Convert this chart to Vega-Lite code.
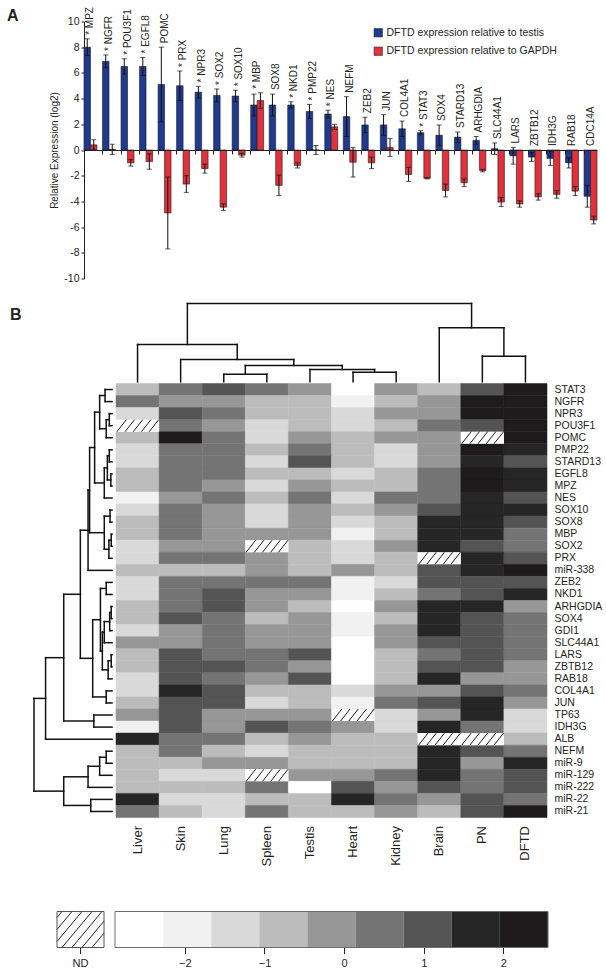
{
"$schema":"https://vega.github.io/schema/vega-lite/v6.json",
"autosize":{"type":"none"},
"padding":{"left":34,"top":21.5,"right":572,"bottom":955.5},
"background":"white",
"config":{"view":{"stroke":null},"font":"Liberation Sans",
"axis":{"labelFont":"Liberation Sans","titleFont":"Liberation Sans","labelColor":"#231f20","titleColor":"#231f20","domainColor":"#231f20","tickColor":"#231f20","grid":false},
"axisY":{"labelOverlap":false},
"legend":{"labelFont":"Liberation Sans","labelColor":"#231f20"},
"title":{"font":"Liberation Sans","color":"#231f20"}},
"datasets":{
"bars":[
{"gene":"MPZ","ref":"testis","value":8.0,"err":0.65},{"gene":"MPZ","ref":"GAPDH","value":0.4,"err":0.4},
{"gene":"NGFR","ref":"testis","value":6.9,"err":0.5},{"gene":"NGFR","ref":"GAPDH","value":0.05,"err":0.4},
{"gene":"POU3F1","ref":"testis","value":6.5,"err":0.6},{"gene":"POU3F1","ref":"GAPDH","value":-1.0,"err":0.25},
{"gene":"EGFL8","ref":"testis","value":6.5,"err":0.7},{"gene":"EGFL8","ref":"GAPDH","value":-0.9,"err":0.6},
{"gene":"POMC","ref":"testis","value":5.1,"err":2.9},{"gene":"POMC","ref":"GAPDH","value":-4.9,"err":2.8},
{"gene":"PRX","ref":"testis","value":5.0,"err":1.15},{"gene":"PRX","ref":"GAPDH","value":-2.65,"err":0.65},
{"gene":"NPR3","ref":"testis","value":4.5,"err":0.45},{"gene":"NPR3","ref":"GAPDH","value":-1.45,"err":0.35},
{"gene":"SOX2","ref":"testis","value":4.25,"err":0.5},{"gene":"SOX2","ref":"GAPDH","value":-4.45,"err":0.25},
{"gene":"SOX10","ref":"testis","value":4.2,"err":0.45},{"gene":"SOX10","ref":"GAPDH","value":-0.4,"err":0.15},
{"gene":"MBP","ref":"testis","value":3.5,"err":0.85},{"gene":"MBP","ref":"GAPDH","value":3.85,"err":0.6},
{"gene":"SOX8","ref":"testis","value":3.5,"err":0.85},{"gene":"SOX8","ref":"GAPDH","value":-2.75,"err":0.8},
{"gene":"NKD1","ref":"testis","value":3.5,"err":0.25},{"gene":"NKD1","ref":"GAPDH","value":-1.2,"err":0.2},
{"gene":"PMP22","ref":"testis","value":3.0,"err":0.55},{"gene":"PMP22","ref":"GAPDH","value":0.0,"err":0.35},
{"gene":"NES","ref":"testis","value":2.8,"err":0.3},{"gene":"NES","ref":"GAPDH","value":1.8,"err":0.2},
{"gene":"NEFM","ref":"testis","value":2.6,"err":1.55},{"gene":"NEFM","ref":"GAPDH","value":-0.95,"err":1.15},
{"gene":"ZEB2","ref":"testis","value":1.95,"err":0.6},{"gene":"ZEB2","ref":"GAPDH","value":-1.0,"err":0.45},
{"gene":"JUN","ref":"testis","value":1.95,"err":0.8},{"gene":"JUN","ref":"GAPDH","value":0.2,"err":0.7},
{"gene":"COL4A1","ref":"testis","value":1.65,"err":0.6},{"gene":"COL4A1","ref":"GAPDH","value":-1.9,"err":0.55},
{"gene":"STAT3","ref":"testis","value":1.35,"err":0.15},{"gene":"STAT3","ref":"GAPDH","value":-2.2,"err":0.05},
{"gene":"SOX4","ref":"testis","value":1.15,"err":0.8},{"gene":"SOX4","ref":"GAPDH","value":-3.15,"err":0.5},
{"gene":"STARD13","ref":"testis","value":1.0,"err":0.4},{"gene":"STARD13","ref":"GAPDH","value":-2.55,"err":0.3},
{"gene":"ARHGDIA","ref":"testis","value":0.75,"err":0.3},{"gene":"ARHGDIA","ref":"GAPDH","value":-1.6,"err":0.1},
{"gene":"SLC44A1","ref":"testis","value":0.1,"err":0.45},{"gene":"SLC44A1","ref":"GAPDH","value":-4.05,"err":0.35},
{"gene":"LARS","ref":"testis","value":-0.45,"err":0.65},{"gene":"LARS","ref":"GAPDH","value":-4.2,"err":0.25},
{"gene":"ZBTB12","ref":"testis","value":-0.55,"err":0.35},{"gene":"ZBTB12","ref":"GAPDH","value":-3.65,"err":0.25},
{"gene":"IDH3G","ref":"testis","value":-0.65,"err":0.55},{"gene":"IDH3G","ref":"GAPDH","value":-3.45,"err":0.3},
{"gene":"RAB18","ref":"testis","value":-1.0,"err":0.4},{"gene":"RAB18","ref":"GAPDH","value":-3.2,"err":0.35},
{"gene":"CDC14A","ref":"testis","value":-3.6,"err":0.85},{"gene":"CDC14A","ref":"GAPDH","value":-5.45,"err":0.3}],
"genes":[{"gene":"MPZ","sig":true},{"gene":"NGFR","sig":true},{"gene":"POU3F1","sig":true},{"gene":"EGFL8","sig":true},{"gene":"POMC","sig":false},{"gene":"PRX","sig":true},{"gene":"NPR3","sig":true},{"gene":"SOX2","sig":true},{"gene":"SOX10","sig":true},{"gene":"MBP","sig":true},{"gene":"SOX8","sig":false},{"gene":"NKD1","sig":true},{"gene":"PMP22","sig":true},{"gene":"NES","sig":true},{"gene":"NEFM","sig":false},{"gene":"ZEB2","sig":false},{"gene":"JUN","sig":false},{"gene":"COL4A1","sig":false},{"gene":"STAT3","sig":true},{"gene":"SOX4","sig":false},{"gene":"STARD13","sig":false},{"gene":"ARHGDIA","sig":false},{"gene":"SLC44A1","sig":false},{"gene":"LARS","sig":false},{"gene":"ZBTB12","sig":false},{"gene":"IDH3G","sig":false},{"gene":"RAB18","sig":false},{"gene":"CDC14A","sig":false}],
"topTree":[{"p1":2,"h1":0,"p2":3,"h2":0,"h":23},{"p1":5,"h1":0,"p2":6,"h2":0,"h":29},{"p1":4,"h1":0,"p2":5.5,"h2":29,"h":37},{"p1":2.5,"h1":23,"p2":4.75,"h2":37,"h":49},{"p1":1,"h1":0,"p2":3.625,"h2":49,"h":67},{"p1":0,"h1":0,"p2":2.3125,"h2":67,"h":112},{"p1":8,"h1":0,"p2":9,"h2":0,"h":77},{"p1":7,"h1":0,"p2":8.5,"h2":77,"h":162},{"p1":1.15625,"h1":112,"p2":7.75,"h2":162,"h":235}],
"leftTree":[{"p1":0,"h1":0,"p2":1,"h2":0,"h":18},{"p1":2,"h1":0,"p2":3,"h2":0,"h":7},{"p1":2.5,"h1":7,"p2":4,"h2":0,"h":15},{"p1":0.5,"h1":18,"p2":3.25,"h2":15,"h":32},{"p1":5,"h1":0,"p2":6,"h2":0,"h":7},{"p1":7,"h1":0,"p2":8,"h2":0,"h":3},{"p1":5.5,"h1":7,"p2":7.5,"h2":3,"h":12},{"p1":6.5,"h1":12,"p2":9,"h2":0,"h":20},{"p1":1.875,"h1":32,"p2":7.75,"h2":20,"h":45},{"p1":10,"h1":0,"p2":11,"h2":0,"h":5},{"p1":12,"h1":0,"p2":13,"h2":0,"h":2},{"p1":12.5,"h1":2,"p2":14,"h2":0,"h":8},{"p1":10.5,"h1":5,"p2":13.25,"h2":8,"h":20},{"p1":4.8125,"h1":45,"p2":11.875,"h2":20,"h":58},{"p1":8.34375,"h1":58,"p2":15,"h2":0,"h":62},{"p1":16,"h1":0,"p2":17,"h2":0,"h":15},{"p1":18,"h1":0,"p2":19,"h2":0,"h":2},{"p1":18.5,"h1":2,"p2":20,"h2":0,"h":6},{"p1":19.25,"h1":6,"p2":21,"h2":0,"h":20},{"p1":22,"h1":0,"p2":23,"h2":0,"h":2},{"p1":22.5,"h1":2,"p2":24,"h2":0,"h":10},{"p1":20.125,"h1":20,"p2":23.25,"h2":10,"h":25},{"p1":16.5,"h1":15,"p2":21.6875,"h2":25,"h":30},{"p1":25,"h1":0,"p2":26,"h2":0,"h":15},{"p1":19.09375,"h1":30,"p2":25.5,"h2":15,"h":50},{"p1":11.671875,"h1":62,"p2":22.296875,"h2":50,"h":82},{"p1":27,"h1":0,"p2":28,"h2":0,"h":47},{"p1":16.984375,"h1":82,"p2":27.5,"h2":47,"h":125},{"p1":22.2421875,"h1":125,"p2":29,"h2":0,"h":172},{"p1":30,"h1":0,"p2":31,"h2":0,"h":15},{"p1":30.5,"h1":15,"p2":32,"h2":0,"h":32},{"p1":31.25,"h1":32,"p2":33,"h2":0,"h":62},{"p1":34,"h1":0,"p2":35,"h2":0,"h":55},{"p1":32.125,"h1":62,"p2":34.5,"h2":55,"h":125},{"p1":25.62109375,"h1":172,"p2":33.3125,"h2":125,"h":202}],
"legendBins":[{"lo":-2.877,"hi":-2.273},{"lo":-2.273,"hi":-1.669},{"lo":-1.669,"hi":-1.065},{"lo":-1.065,"hi":-0.461},{"lo":-0.461,"hi":0.143},{"lo":0.143,"hi":0.747},{"lo":0.747,"hi":1.351},{"lo":1.351,"hi":1.955},{"lo":1.955,"hi":2.56}],
"heat":[
{"gene":"STAT3","tissue":"Liver","z":-0.8},{"gene":"STAT3","tissue":"Skin","z":0.4},{"gene":"STAT3","tissue":"Lung","z":1.1},{"gene":"STAT3","tissue":"Spleen","z":0.4},{"gene":"STAT3","tissue":"Testis","z":-0.2},{"gene":"STAT3","tissue":"Heart","z":-2.6},{"gene":"STAT3","tissue":"Kidney","z":-0.2},{"gene":"STAT3","tissue":"Brain","z":-0.8},{"gene":"STAT3","tissue":"PN","z":1.1},{"gene":"STAT3","tissue":"DFTD","z":2.3},
{"gene":"NGFR","tissue":"Liver","z":0.4},{"gene":"NGFR","tissue":"Skin","z":-0.2},{"gene":"NGFR","tissue":"Lung","z":-0.2},{"gene":"NGFR","tissue":"Spleen","z":-0.8},{"gene":"NGFR","tissue":"Testis","z":-0.8},{"gene":"NGFR","tissue":"Heart","z":-2.0},{"gene":"NGFR","tissue":"Kidney","z":-0.8},{"gene":"NGFR","tissue":"Brain","z":-0.2},{"gene":"NGFR","tissue":"PN","z":2.3},{"gene":"NGFR","tissue":"DFTD","z":2.3},
{"gene":"NPR3","tissue":"Liver","z":-1.4},{"gene":"NPR3","tissue":"Skin","z":1.1},{"gene":"NPR3","tissue":"Lung","z":0.4},{"gene":"NPR3","tissue":"Spleen","z":-0.8},{"gene":"NPR3","tissue":"Testis","z":-0.8},{"gene":"NPR3","tissue":"Heart","z":-1.4},{"gene":"NPR3","tissue":"Kidney","z":-0.2},{"gene":"NPR3","tissue":"Brain","z":-0.2},{"gene":"NPR3","tissue":"PN","z":2.3},{"gene":"NPR3","tissue":"DFTD","z":2.3},
{"gene":"POU3F1","tissue":"Liver","z":null},{"gene":"POU3F1","tissue":"Skin","z":0.4},{"gene":"POU3F1","tissue":"Lung","z":-0.2},{"gene":"POU3F1","tissue":"Spleen","z":-1.4},{"gene":"POU3F1","tissue":"Testis","z":-0.8},{"gene":"POU3F1","tissue":"Heart","z":-1.4},{"gene":"POU3F1","tissue":"Kidney","z":-0.8},{"gene":"POU3F1","tissue":"Brain","z":0.4},{"gene":"POU3F1","tissue":"PN","z":1.1},{"gene":"POU3F1","tissue":"DFTD","z":2.3},
{"gene":"POMC","tissue":"Liver","z":-0.8},{"gene":"POMC","tissue":"Skin","z":2.3},{"gene":"POMC","tissue":"Lung","z":0.4},{"gene":"POMC","tissue":"Spleen","z":-1.4},{"gene":"POMC","tissue":"Testis","z":-0.2},{"gene":"POMC","tissue":"Heart","z":-0.8},{"gene":"POMC","tissue":"Kidney","z":-0.2},{"gene":"POMC","tissue":"Brain","z":-0.2},{"gene":"POMC","tissue":"PN","z":null},{"gene":"POMC","tissue":"DFTD","z":2.3},
{"gene":"PMP22","tissue":"Liver","z":-1.4},{"gene":"PMP22","tissue":"Skin","z":0.4},{"gene":"PMP22","tissue":"Lung","z":0.4},{"gene":"PMP22","tissue":"Spleen","z":-0.8},{"gene":"PMP22","tissue":"Testis","z":0.4},{"gene":"PMP22","tissue":"Heart","z":-0.8},{"gene":"PMP22","tissue":"Kidney","z":-1.4},{"gene":"PMP22","tissue":"Brain","z":-0.2},{"gene":"PMP22","tissue":"PN","z":2.3},{"gene":"PMP22","tissue":"DFTD","z":1.7},
{"gene":"STARD13","tissue":"Liver","z":-1.4},{"gene":"STARD13","tissue":"Skin","z":0.4},{"gene":"STARD13","tissue":"Lung","z":0.4},{"gene":"STARD13","tissue":"Spleen","z":-1.4},{"gene":"STARD13","tissue":"Testis","z":1.1},{"gene":"STARD13","tissue":"Heart","z":-0.8},{"gene":"STARD13","tissue":"Kidney","z":-1.4},{"gene":"STARD13","tissue":"Brain","z":-0.2},{"gene":"STARD13","tissue":"PN","z":1.7},{"gene":"STARD13","tissue":"DFTD","z":1.1},
{"gene":"EGFL8","tissue":"Liver","z":-0.8},{"gene":"EGFL8","tissue":"Skin","z":0.4},{"gene":"EGFL8","tissue":"Lung","z":0.4},{"gene":"EGFL8","tissue":"Spleen","z":-0.8},{"gene":"EGFL8","tissue":"Testis","z":-0.8},{"gene":"EGFL8","tissue":"Heart","z":-1.4},{"gene":"EGFL8","tissue":"Kidney","z":-0.8},{"gene":"EGFL8","tissue":"Brain","z":0.4},{"gene":"EGFL8","tissue":"PN","z":2.3},{"gene":"EGFL8","tissue":"DFTD","z":1.7},
{"gene":"MPZ","tissue":"Liver","z":-0.8},{"gene":"MPZ","tissue":"Skin","z":0.4},{"gene":"MPZ","tissue":"Lung","z":-0.2},{"gene":"MPZ","tissue":"Spleen","z":-1.4},{"gene":"MPZ","tissue":"Testis","z":-0.2},{"gene":"MPZ","tissue":"Heart","z":-0.8},{"gene":"MPZ","tissue":"Kidney","z":-0.8},{"gene":"MPZ","tissue":"Brain","z":0.4},{"gene":"MPZ","tissue":"PN","z":2.3},{"gene":"MPZ","tissue":"DFTD","z":1.7},
{"gene":"NES","tissue":"Liver","z":-2.0},{"gene":"NES","tissue":"Skin","z":-0.2},{"gene":"NES","tissue":"Lung","z":0.4},{"gene":"NES","tissue":"Spleen","z":-0.8},{"gene":"NES","tissue":"Testis","z":0.4},{"gene":"NES","tissue":"Heart","z":-1.4},{"gene":"NES","tissue":"Kidney","z":0.4},{"gene":"NES","tissue":"Brain","z":0.4},{"gene":"NES","tissue":"PN","z":1.7},{"gene":"NES","tissue":"DFTD","z":1.1},
{"gene":"SOX10","tissue":"Liver","z":-1.4},{"gene":"SOX10","tissue":"Skin","z":0.4},{"gene":"SOX10","tissue":"Lung","z":-0.2},{"gene":"SOX10","tissue":"Spleen","z":-1.4},{"gene":"SOX10","tissue":"Testis","z":-0.2},{"gene":"SOX10","tissue":"Heart","z":-0.8},{"gene":"SOX10","tissue":"Kidney","z":-0.2},{"gene":"SOX10","tissue":"Brain","z":1.1},{"gene":"SOX10","tissue":"PN","z":1.7},{"gene":"SOX10","tissue":"DFTD","z":1.7},
{"gene":"SOX8","tissue":"Liver","z":-0.8},{"gene":"SOX8","tissue":"Skin","z":0.4},{"gene":"SOX8","tissue":"Lung","z":-0.2},{"gene":"SOX8","tissue":"Spleen","z":-1.4},{"gene":"SOX8","tissue":"Testis","z":-0.2},{"gene":"SOX8","tissue":"Heart","z":-1.4},{"gene":"SOX8","tissue":"Kidney","z":-0.8},{"gene":"SOX8","tissue":"Brain","z":1.7},{"gene":"SOX8","tissue":"PN","z":1.7},{"gene":"SOX8","tissue":"DFTD","z":1.1},
{"gene":"MBP","tissue":"Liver","z":-0.8},{"gene":"MBP","tissue":"Skin","z":0.4},{"gene":"MBP","tissue":"Lung","z":-0.2},{"gene":"MBP","tissue":"Spleen","z":-0.2},{"gene":"MBP","tissue":"Testis","z":-0.2},{"gene":"MBP","tissue":"Heart","z":-2.0},{"gene":"MBP","tissue":"Kidney","z":-0.8},{"gene":"MBP","tissue":"Brain","z":1.7},{"gene":"MBP","tissue":"PN","z":1.7},{"gene":"MBP","tissue":"DFTD","z":0.4},
{"gene":"SOX2","tissue":"Liver","z":-1.4},{"gene":"SOX2","tissue":"Skin","z":-0.2},{"gene":"SOX2","tissue":"Lung","z":-0.2},{"gene":"SOX2","tissue":"Spleen","z":null},{"gene":"SOX2","tissue":"Testis","z":-0.8},{"gene":"SOX2","tissue":"Heart","z":-1.4},{"gene":"SOX2","tissue":"Kidney","z":-0.2},{"gene":"SOX2","tissue":"Brain","z":1.7},{"gene":"SOX2","tissue":"PN","z":1.1},{"gene":"SOX2","tissue":"DFTD","z":0.4},
{"gene":"PRX","tissue":"Liver","z":-1.4},{"gene":"PRX","tissue":"Skin","z":0.4},{"gene":"PRX","tissue":"Lung","z":0.4},{"gene":"PRX","tissue":"Spleen","z":-0.2},{"gene":"PRX","tissue":"Testis","z":-0.8},{"gene":"PRX","tissue":"Heart","z":-1.4},{"gene":"PRX","tissue":"Kidney","z":-0.8},{"gene":"PRX","tissue":"Brain","z":null},{"gene":"PRX","tissue":"PN","z":1.7},{"gene":"PRX","tissue":"DFTD","z":1.1},
{"gene":"miR-338","tissue":"Liver","z":-0.8},{"gene":"miR-338","tissue":"Skin","z":-0.8},{"gene":"miR-338","tissue":"Lung","z":-0.8},{"gene":"miR-338","tissue":"Spleen","z":-0.2},{"gene":"miR-338","tissue":"Testis","z":-0.8},{"gene":"miR-338","tissue":"Heart","z":-0.2},{"gene":"miR-338","tissue":"Kidney","z":-0.8},{"gene":"miR-338","tissue":"Brain","z":1.1},{"gene":"miR-338","tissue":"PN","z":1.7},{"gene":"miR-338","tissue":"DFTD","z":2.3},
{"gene":"ZEB2","tissue":"Liver","z":-1.4},{"gene":"ZEB2","tissue":"Skin","z":0.4},{"gene":"ZEB2","tissue":"Lung","z":0.4},{"gene":"ZEB2","tissue":"Spleen","z":0.4},{"gene":"ZEB2","tissue":"Testis","z":0.4},{"gene":"ZEB2","tissue":"Heart","z":-2.0},{"gene":"ZEB2","tissue":"Kidney","z":-1.4},{"gene":"ZEB2","tissue":"Brain","z":1.1},{"gene":"ZEB2","tissue":"PN","z":1.1},{"gene":"ZEB2","tissue":"DFTD","z":1.1},
{"gene":"NKD1","tissue":"Liver","z":-1.4},{"gene":"NKD1","tissue":"Skin","z":0.4},{"gene":"NKD1","tissue":"Lung","z":1.1},{"gene":"NKD1","tissue":"Spleen","z":-0.2},{"gene":"NKD1","tissue":"Testis","z":-0.2},{"gene":"NKD1","tissue":"Heart","z":-2.0},{"gene":"NKD1","tissue":"Kidney","z":-0.8},{"gene":"NKD1","tissue":"Brain","z":0.4},{"gene":"NKD1","tissue":"PN","z":1.1},{"gene":"NKD1","tissue":"DFTD","z":1.7},
{"gene":"ARHGDIA","tissue":"Liver","z":-0.8},{"gene":"ARHGDIA","tissue":"Skin","z":0.4},{"gene":"ARHGDIA","tissue":"Lung","z":1.1},{"gene":"ARHGDIA","tissue":"Spleen","z":-0.2},{"gene":"ARHGDIA","tissue":"Testis","z":-0.8},{"gene":"ARHGDIA","tissue":"Heart","z":-2.6},{"gene":"ARHGDIA","tissue":"Kidney","z":-0.2},{"gene":"ARHGDIA","tissue":"Brain","z":1.7},{"gene":"ARHGDIA","tissue":"PN","z":1.7},{"gene":"ARHGDIA","tissue":"DFTD","z":-0.2},
{"gene":"SOX4","tissue":"Liver","z":-0.8},{"gene":"SOX4","tissue":"Skin","z":1.1},{"gene":"SOX4","tissue":"Lung","z":0.4},{"gene":"SOX4","tissue":"Spleen","z":-0.8},{"gene":"SOX4","tissue":"Testis","z":-0.2},{"gene":"SOX4","tissue":"Heart","z":-2.0},{"gene":"SOX4","tissue":"Kidney","z":-0.8},{"gene":"SOX4","tissue":"Brain","z":1.7},{"gene":"SOX4","tissue":"PN","z":1.1},{"gene":"SOX4","tissue":"DFTD","z":0.4},
{"gene":"GDI1","tissue":"Liver","z":-1.4},{"gene":"GDI1","tissue":"Skin","z":-0.2},{"gene":"GDI1","tissue":"Lung","z":0.4},{"gene":"GDI1","tissue":"Spleen","z":-0.2},{"gene":"GDI1","tissue":"Testis","z":-0.2},{"gene":"GDI1","tissue":"Heart","z":-2.0},{"gene":"GDI1","tissue":"Kidney","z":-0.2},{"gene":"GDI1","tissue":"Brain","z":1.7},{"gene":"GDI1","tissue":"PN","z":1.1},{"gene":"GDI1","tissue":"DFTD","z":0.4},
{"gene":"SLC44A1","tissue":"Liver","z":-0.2},{"gene":"SLC44A1","tissue":"Skin","z":-0.2},{"gene":"SLC44A1","tissue":"Lung","z":0.4},{"gene":"SLC44A1","tissue":"Spleen","z":-0.2},{"gene":"SLC44A1","tissue":"Testis","z":-0.2},{"gene":"SLC44A1","tissue":"Heart","z":-2.6},{"gene":"SLC44A1","tissue":"Kidney","z":-0.2},{"gene":"SLC44A1","tissue":"Brain","z":1.1},{"gene":"SLC44A1","tissue":"PN","z":1.1},{"gene":"SLC44A1","tissue":"DFTD","z":0.4},
{"gene":"LARS","tissue":"Liver","z":-0.8},{"gene":"LARS","tissue":"Skin","z":1.1},{"gene":"LARS","tissue":"Lung","z":0.4},{"gene":"LARS","tissue":"Spleen","z":0.4},{"gene":"LARS","tissue":"Testis","z":1.1},{"gene":"LARS","tissue":"Heart","z":-2.6},{"gene":"LARS","tissue":"Kidney","z":-0.8},{"gene":"LARS","tissue":"Brain","z":0.4},{"gene":"LARS","tissue":"PN","z":1.1},{"gene":"LARS","tissue":"DFTD","z":0.4},
{"gene":"ZBTB12","tissue":"Liver","z":-0.8},{"gene":"ZBTB12","tissue":"Skin","z":1.1},{"gene":"ZBTB12","tissue":"Lung","z":1.1},{"gene":"ZBTB12","tissue":"Spleen","z":0.4},{"gene":"ZBTB12","tissue":"Testis","z":-0.2},{"gene":"ZBTB12","tissue":"Heart","z":-2.6},{"gene":"ZBTB12","tissue":"Kidney","z":-0.8},{"gene":"ZBTB12","tissue":"Brain","z":1.1},{"gene":"ZBTB12","tissue":"PN","z":1.1},{"gene":"ZBTB12","tissue":"DFTD","z":-0.2},
{"gene":"RAB18","tissue":"Liver","z":-1.4},{"gene":"RAB18","tissue":"Skin","z":1.1},{"gene":"RAB18","tissue":"Lung","z":0.4},{"gene":"RAB18","tissue":"Spleen","z":-0.2},{"gene":"RAB18","tissue":"Testis","z":1.1},{"gene":"RAB18","tissue":"Heart","z":-2.6},{"gene":"RAB18","tissue":"Kidney","z":-0.8},{"gene":"RAB18","tissue":"Brain","z":1.7},{"gene":"RAB18","tissue":"PN","z":-0.2},{"gene":"RAB18","tissue":"DFTD","z":-0.2},
{"gene":"COL4A1","tissue":"Liver","z":-1.4},{"gene":"COL4A1","tissue":"Skin","z":1.7},{"gene":"COL4A1","tissue":"Lung","z":1.1},{"gene":"COL4A1","tissue":"Spleen","z":-0.8},{"gene":"COL4A1","tissue":"Testis","z":-0.8},{"gene":"COL4A1","tissue":"Heart","z":-1.4},{"gene":"COL4A1","tissue":"Kidney","z":-0.2},{"gene":"COL4A1","tissue":"Brain","z":-0.2},{"gene":"COL4A1","tissue":"PN","z":1.1},{"gene":"COL4A1","tissue":"DFTD","z":0.4},
{"gene":"JUN","tissue":"Liver","z":-0.8},{"gene":"JUN","tissue":"Skin","z":1.1},{"gene":"JUN","tissue":"Lung","z":1.1},{"gene":"JUN","tissue":"Spleen","z":-1.4},{"gene":"JUN","tissue":"Testis","z":-0.8},{"gene":"JUN","tissue":"Heart","z":-2.0},{"gene":"JUN","tissue":"Kidney","z":0.4},{"gene":"JUN","tissue":"Brain","z":1.1},{"gene":"JUN","tissue":"PN","z":1.7},{"gene":"JUN","tissue":"DFTD","z":-0.2},
{"gene":"TP63","tissue":"Liver","z":-0.2},{"gene":"TP63","tissue":"Skin","z":1.1},{"gene":"TP63","tissue":"Lung","z":-0.2},{"gene":"TP63","tissue":"Spleen","z":-0.2},{"gene":"TP63","tissue":"Testis","z":-0.2},{"gene":"TP63","tissue":"Heart","z":null},{"gene":"TP63","tissue":"Kidney","z":-1.4},{"gene":"TP63","tissue":"Brain","z":-0.2},{"gene":"TP63","tissue":"PN","z":1.7},{"gene":"TP63","tissue":"DFTD","z":-1.4},
{"gene":"IDH3G","tissue":"Liver","z":-2.0},{"gene":"IDH3G","tissue":"Skin","z":1.1},{"gene":"IDH3G","tissue":"Lung","z":-0.2},{"gene":"IDH3G","tissue":"Spleen","z":1.1},{"gene":"IDH3G","tissue":"Testis","z":0.4},{"gene":"IDH3G","tissue":"Heart","z":-0.2},{"gene":"IDH3G","tissue":"Kidney","z":-1.4},{"gene":"IDH3G","tissue":"Brain","z":1.7},{"gene":"IDH3G","tissue":"PN","z":0.4},{"gene":"IDH3G","tissue":"DFTD","z":-1.4},
{"gene":"ALB","tissue":"Liver","z":1.7},{"gene":"ALB","tissue":"Skin","z":0.4},{"gene":"ALB","tissue":"Lung","z":0.4},{"gene":"ALB","tissue":"Spleen","z":-0.8},{"gene":"ALB","tissue":"Testis","z":-0.2},{"gene":"ALB","tissue":"Heart","z":-0.8},{"gene":"ALB","tissue":"Kidney","z":-0.8},{"gene":"ALB","tissue":"Brain","z":null},{"gene":"ALB","tissue":"PN","z":null},{"gene":"ALB","tissue":"DFTD","z":-0.8},
{"gene":"NEFM","tissue":"Liver","z":-0.8},{"gene":"NEFM","tissue":"Skin","z":0.4},{"gene":"NEFM","tissue":"Lung","z":-0.8},{"gene":"NEFM","tissue":"Spleen","z":-1.4},{"gene":"NEFM","tissue":"Testis","z":-0.8},{"gene":"NEFM","tissue":"Heart","z":-0.8},{"gene":"NEFM","tissue":"Kidney","z":-0.8},{"gene":"NEFM","tissue":"Brain","z":1.7},{"gene":"NEFM","tissue":"PN","z":1.1},{"gene":"NEFM","tissue":"DFTD","z":0.4},
{"gene":"miR-9","tissue":"Liver","z":-0.8},{"gene":"miR-9","tissue":"Skin","z":-0.8},{"gene":"miR-9","tissue":"Lung","z":-0.2},{"gene":"miR-9","tissue":"Spleen","z":-0.2},{"gene":"miR-9","tissue":"Testis","z":-0.8},{"gene":"miR-9","tissue":"Heart","z":-0.8},{"gene":"miR-9","tissue":"Kidney","z":-0.8},{"gene":"miR-9","tissue":"Brain","z":1.7},{"gene":"miR-9","tissue":"PN","z":-0.2},{"gene":"miR-9","tissue":"DFTD","z":1.7},
{"gene":"miR-129","tissue":"Liver","z":-0.8},{"gene":"miR-129","tissue":"Skin","z":-1.4},{"gene":"miR-129","tissue":"Lung","z":-1.4},{"gene":"miR-129","tissue":"Spleen","z":null},{"gene":"miR-129","tissue":"Testis","z":-0.2},{"gene":"miR-129","tissue":"Heart","z":-0.2},{"gene":"miR-129","tissue":"Kidney","z":0.4},{"gene":"miR-129","tissue":"Brain","z":1.7},{"gene":"miR-129","tissue":"PN","z":0.4},{"gene":"miR-129","tissue":"DFTD","z":1.1},
{"gene":"miR-222","tissue":"Liver","z":-0.8},{"gene":"miR-222","tissue":"Skin","z":-0.8},{"gene":"miR-222","tissue":"Lung","z":-0.8},{"gene":"miR-222","tissue":"Spleen","z":0.4},{"gene":"miR-222","tissue":"Testis","z":-2.6},{"gene":"miR-222","tissue":"Heart","z":1.1},{"gene":"miR-222","tissue":"Kidney","z":-0.2},{"gene":"miR-222","tissue":"Brain","z":1.1},{"gene":"miR-222","tissue":"PN","z":0.4},{"gene":"miR-222","tissue":"DFTD","z":1.1},
{"gene":"miR-22","tissue":"Liver","z":1.7},{"gene":"miR-22","tissue":"Skin","z":-1.4},{"gene":"miR-22","tissue":"Lung","z":-1.4},{"gene":"miR-22","tissue":"Spleen","z":-0.8},{"gene":"miR-22","tissue":"Testis","z":-0.8},{"gene":"miR-22","tissue":"Heart","z":1.7},{"gene":"miR-22","tissue":"Kidney","z":0.4},{"gene":"miR-22","tissue":"Brain","z":-0.2},{"gene":"miR-22","tissue":"PN","z":1.1},{"gene":"miR-22","tissue":"DFTD","z":0.4},
{"gene":"miR-21","tissue":"Liver","z":0.4},{"gene":"miR-21","tissue":"Skin","z":-0.8},{"gene":"miR-21","tissue":"Lung","z":-1.4},{"gene":"miR-21","tissue":"Spleen","z":0.4},{"gene":"miR-21","tissue":"Testis","z":-0.8},{"gene":"miR-21","tissue":"Heart","z":-0.8},{"gene":"miR-21","tissue":"Kidney","z":-0.2},{"gene":"miR-21","tissue":"Brain","z":-0.8},{"gene":"miR-21","tissue":"PN","z":1.1},{"gene":"miR-21","tissue":"DFTD","z":2.3}]
},
"columns":2,
"align":"each",
"bounds":"flush",
"spacing":{"row":0,"column":4},
"concat":[
 {"width":78,"height":257,"data":{"values":[]},"mark":"point","encoding":{},
  "title":{"text":"A","anchor":"start","dx":-27,"dy":17,"offset":1.5,"baseline":"alphabetic","fontSize":16,"fontWeight":"bold"}},
 {"width":481,"height":257,"data":{"name":"bars"},
  "encoding":{"x":{"field":"gene","type":"nominal","scale":{"type":"band","domain":["MPZ","NGFR","POU3F1","EGFL8","POMC","PRX","NPR3","SOX2","SOX10","MBP","SOX8","NKD1","PMP22","NES","NEFM","ZEB2","JUN","COL4A1","STAT3","SOX4","STARD13","ARHGDIA","SLC44A1","LARS","ZBTB12","IDH3G","RAB18","CDC14A"],"range":[-32,481],"paddingInner":0.3,"paddingOuter":0},
   "axis":{"orient":"bottom","offset":-128.5,"title":null,"labels":false,"ticks":true,"tickSize":4,"bandPosition":0,"domainWidth":1,"tickWidth":1,"zindex":1}}},
  "layer":[
   {"mark":{"type":"bar","stroke":"#1a1a1a","strokeWidth":0.6},
    "encoding":{"xOffset":{"field":"ref","type":"nominal","scale":{"type":"band","domain":["testis","GAPDH"],"paddingInner":0,"paddingOuter":0}},
     "y":{"field":"value","type":"quantitative","stack":null,"scale":{"domain":[-10,10],"nice":false,"zero":false},
      "axis":{"values":[-10,-8,-6,-4,-2,0,2,4,6,8,10],"offset":32,"labelOverlap":false,"title":"Relative Expression (log2)","titleFontSize":10,"titleFontWeight":"normal","labelFontSize":10.5,"tickSize":3,"labelPadding":2,"titlePadding":4,"labelFlush":false,"labelExpr":"replace(datum.label, '\u2212', '-')"}},
     "color":{"field":"ref","type":"nominal","scale":{"domain":["testis","GAPDH"],"range":["#1f3a8f","#e2313a"]},
      "legend":{"orient":"none","legendX":257,"legendY":6,"title":null,"symbolType":"square","symbolSize":70,"symbolStrokeColor":"#222","symbolStrokeWidth":0.6,"labelFontSize":10.5,"labelOffset":3,"labelLimit":400,"rowPadding":6.5,"labelExpr":"'DFTD expression relative to ' + datum.label"}}}},
   {"transform":[{"calculate":"datum.value - datum.err","as":"lo"},{"calculate":"datum.value + datum.err","as":"hi"}],
    "mark":{"type":"rule","color":"#111","strokeWidth":1},
    "encoding":{"xOffset":{"field":"ref","type":"nominal","scale":{"type":"band","domain":["testis","GAPDH"],"paddingInner":0,"paddingOuter":0}},"y":{"field":"lo","type":"quantitative",
      "axis":{"values":[-10,-8,-6,-4,-2,0,2,4,6,8,10],"offset":32,"labelOverlap":false,"title":"Relative Expression (log2)","titleFontSize":10,"titleFontWeight":"normal","labelFontSize":10.5,"tickSize":3,"labelPadding":2,"titlePadding":4,"labelFlush":false,"labelExpr":"replace(datum.label, '\u2212', '-')"}},"y2":{"field":"hi"}}},
   {"transform":[{"calculate":"datum.value + datum.err","as":"hi"}],
    "mark":{"type":"tick","orient":"horizontal","size":5,"thickness":1,"color":"#111"},
    "encoding":{"xOffset":{"field":"ref","type":"nominal","scale":{"type":"band","domain":["testis","GAPDH"],"paddingInner":0,"paddingOuter":0}},"y":{"field":"hi","type":"quantitative",
      "axis":{"values":[-10,-8,-6,-4,-2,0,2,4,6,8,10],"offset":32,"labelOverlap":false,"title":"Relative Expression (log2)","titleFontSize":10,"titleFontWeight":"normal","labelFontSize":10.5,"tickSize":3,"labelPadding":2,"titlePadding":4,"labelFlush":false,"labelExpr":"replace(datum.label, '\u2212', '-')"}}}},
   {"transform":[{"calculate":"datum.value - datum.err","as":"lo"}],
    "mark":{"type":"tick","orient":"horizontal","size":5,"thickness":1,"color":"#111"},
    "encoding":{"xOffset":{"field":"ref","type":"nominal","scale":{"type":"band","domain":["testis","GAPDH"],"paddingInner":0,"paddingOuter":0}},"y":{"field":"lo","type":"quantitative",
      "axis":{"values":[-10,-8,-6,-4,-2,0,2,4,6,8,10],"offset":32,"labelOverlap":false,"title":"Relative Expression (log2)","titleFontSize":10,"titleFontWeight":"normal","labelFontSize":10.5,"tickSize":3,"labelPadding":2,"titlePadding":4,"labelFlush":false,"labelExpr":"replace(datum.label, '\u2212', '-')"}}}},
   {"transform":[{"calculate":"datum.value + datum.err","as":"top"},{"aggregate":[{"op":"max","field":"top","as":"top"}],"groupby":["gene"]},
     {"lookup":"gene","from":{"data":{"name":"genes"},"key":"gene","fields":["sig"]}},
     {"calculate":"max(datum.top, 0)","as":"ly"},{"calculate":"(datum.sig ? '* ' : '') + datum.gene","as":"label"}],
    "mark":{"type":"text","angle":270,"align":"left","baseline":"middle","dx":4,"fontSize":10,"color":"#231f20"},
    "encoding":{"y":{"field":"ly","type":"quantitative",
      "axis":{"values":[-10,-8,-6,-4,-2,0,2,4,6,8,10],"offset":32,"labelOverlap":false,"title":"Relative Expression (log2)","titleFontSize":10,"titleFontWeight":"normal","labelFontSize":10.5,"tickSize":3,"labelPadding":2,"titlePadding":4,"labelFlush":false,"labelExpr":"replace(datum.label, '\u2212', '-')"}},"text":{"field":"label"}}}
  ]},
 {"width":1,"height":25,"data":{"values":[]},"mark":"point","encoding":{}},
 {"width":1,"height":25,"data":{"values":[]},"mark":"point","encoding":{}},
 {"width":78,"height":80,"data":{"values":[]},"mark":"point","encoding":{},
  "title":{"text":"B","anchor":"start","dx":-24,"dy":32,"offset":0,"baseline":"alphabetic","fontSize":16,"fontWeight":"bold"}},
 {"width":431,"height":80,"data":{"name":"topTree"},
  "layer":[
   {"mark":{"type":"rule","color":"#111","strokeWidth":1.5,"strokeCap":"square"},
    "encoding":{"x":{"field":"p1","type":"quantitative","scale":{"domain":[-0.5,9.5],"nice":false,"zero":false},"axis":null},"y":{"field":"h1","type":"quantitative","scale":{"domain":[-5,235],"nice":false,"zero":false},"axis":null},"y2":{"field":"h"}}},
   {"mark":{"type":"rule","color":"#111","strokeWidth":1.5,"strokeCap":"square"},
    "encoding":{"x":{"field":"p2","type":"quantitative","scale":{"domain":[-0.5,9.5],"nice":false,"zero":false},"axis":null},"y":{"field":"h2","type":"quantitative","scale":{"domain":[-5,235],"nice":false,"zero":false},"axis":null},"y2":{"field":"h"}}},
   {"mark":{"type":"rule","color":"#111","strokeWidth":1.5,"strokeCap":"square"},
    "encoding":{"x":{"field":"p1","type":"quantitative","scale":{"domain":[-0.5,9.5],"nice":false,"zero":false},"axis":null},"x2":{"field":"p2"},"y":{"field":"h","type":"quantitative","scale":{"domain":[-5,235],"nice":false,"zero":false},"axis":null}}}
  ]},
 {"width":78,"height":434,"data":{"name":"leftTree"},
  "layer":[
   {"mark":{"type":"rule","color":"#111","strokeWidth":1.5,"strokeCap":"square"},
    "encoding":{"x":{"field":"h1","type":"quantitative","scale":{"domain":[0,202],"reverse":true,"nice":false,"zero":false},"axis":null},"x2":{"field":"h"},"y":{"field":"p1","type":"quantitative","scale":{"domain":[-0.5,35.5],"reverse":true,"nice":false,"zero":false},"axis":null}}},
   {"mark":{"type":"rule","color":"#111","strokeWidth":1.5,"strokeCap":"square"},
    "encoding":{"x":{"field":"h2","type":"quantitative","scale":{"domain":[0,202],"reverse":true,"nice":false,"zero":false},"axis":null},"x2":{"field":"h"},"y":{"field":"p2","type":"quantitative","scale":{"domain":[-0.5,35.5],"reverse":true,"nice":false,"zero":false},"axis":null}}},
   {"mark":{"type":"rule","color":"#111","strokeWidth":1.5,"strokeCap":"square"},
    "encoding":{"x":{"field":"h","type":"quantitative","scale":{"domain":[0,202],"reverse":true,"nice":false,"zero":false},"axis":null},"y":{"field":"p1","type":"quantitative","scale":{"domain":[-0.5,35.5],"reverse":true,"nice":false,"zero":false},"axis":null},"y2":{"field":"p2"}}}
  ]},
 {"width":431,"height":434,"data":{"name":"heat"},
  "layer":[
   {"transform":[{"filter":"isValid(datum.z)"}],"mark":{"type":"rect","strokeWidth":0.5},
    "encoding":{"x":{"field":"tissue","type":"nominal","scale":{"type":"band","domain":["Liver","Skin","Lung","Spleen","Testis","Heart","Kidney","Brain","PN","DFTD"],"paddingInner":0,"paddingOuter":0},"axis":{"orient":"bottom","title":null,"labelAngle":-90,"labelFontSize":13,"ticks":false,"domain":false,"labelPadding":8}},
     "y":{"field":"gene","type":"nominal","scale":{"type":"band","domain":["STAT3","NGFR","NPR3","POU3F1","POMC","PMP22","STARD13","EGFL8","MPZ","NES","SOX10","SOX8","MBP","SOX2","PRX","miR-338","ZEB2","NKD1","ARHGDIA","SOX4","GDI1","SLC44A1","LARS","ZBTB12","RAB18","COL4A1","JUN","TP63","IDH3G","ALB","NEFM","miR-9","miR-129","miR-222","miR-22","miR-21"],"paddingInner":0,"paddingOuter":0},"axis":{"orient":"right","title":null,"labelFontSize":10.5,"ticks":false,"domain":false,"labelPadding":7}},
     "color":{"field":"z","type":"quantitative","scale":{"type":"threshold","domain":[-2.273,-1.669,-1.065,-0.461,0.143,0.747,1.351,1.955],"range":["#ffffff","#f1f1f2","#d9d9d9","#bcbcbc","#979797","#747474","#545454","#262626","#1f1b1c"]},"legend":null},
     "stroke":{"field":"z","type":"quantitative","scale":{"type":"threshold","domain":[-2.273,-1.669,-1.065,-0.461,0.143,0.747,1.351,1.955],"range":["#ffffff","#f1f1f2","#d9d9d9","#bcbcbc","#979797","#747474","#545454","#262626","#1f1b1c"]},"legend":null}}},
   {"transform":[{"filter":"!isValid(datum.z)"}],"mark":{"type":"rect","fill":"white"},
    "encoding":{"x":{"field":"tissue","type":"nominal","scale":{"type":"band","domain":["Liver","Skin","Lung","Spleen","Testis","Heart","Kidney","Brain","PN","DFTD"],"paddingInner":0,"paddingOuter":0}},
     "y":{"field":"gene","type":"nominal","scale":{"type":"band","domain":["STAT3","NGFR","NPR3","POU3F1","POMC","PMP22","STARD13","EGFL8","MPZ","NES","SOX10","SOX8","MBP","SOX2","PRX","miR-338","ZEB2","NKD1","ARHGDIA","SOX4","GDI1","SLC44A1","LARS","ZBTB12","RAB18","COL4A1","JUN","TP63","IDH3G","ALB","NEFM","miR-9","miR-129","miR-222","miR-22","miR-21"],"paddingInner":0,"paddingOuter":0}}}},
   {"transform":[{"filter":"!isValid(datum.z)"}],"mark":{"type":"rule","color":"#1a1a1a","strokeWidth":1},
    "encoding":{"x":{"field":"tissue","type":"nominal","bandPosition":0.02,"scale":{"type":"band","domain":["Liver","Skin","Lung","Spleen","Testis","Heart","Kidney","Brain","PN","DFTD"],"paddingInner":0,"paddingOuter":0}},"x2":{"field":"tissue","bandPosition":0.24},
     "y":{"field":"gene","type":"nominal","bandPosition":1,"scale":{"type":"band","domain":["STAT3","NGFR","NPR3","POU3F1","POMC","PMP22","STARD13","EGFL8","MPZ","NES","SOX10","SOX8","MBP","SOX2","PRX","miR-338","ZEB2","NKD1","ARHGDIA","SOX4","GDI1","SLC44A1","LARS","ZBTB12","RAB18","COL4A1","JUN","TP63","IDH3G","ALB","NEFM","miR-9","miR-129","miR-222","miR-22","miR-21"],"paddingInner":0,"paddingOuter":0}},"y2":{"field":"gene","bandPosition":0}}},
   {"transform":[{"filter":"!isValid(datum.z)"}],"mark":{"type":"rule","color":"#1a1a1a","strokeWidth":1},
    "encoding":{"x":{"field":"tissue","type":"nominal","bandPosition":0.21,"scale":{"type":"band","domain":["Liver","Skin","Lung","Spleen","Testis","Heart","Kidney","Brain","PN","DFTD"],"paddingInner":0,"paddingOuter":0}},"x2":{"field":"tissue","bandPosition":0.43},
     "y":{"field":"gene","type":"nominal","bandPosition":1,"scale":{"type":"band","domain":["STAT3","NGFR","NPR3","POU3F1","POMC","PMP22","STARD13","EGFL8","MPZ","NES","SOX10","SOX8","MBP","SOX2","PRX","miR-338","ZEB2","NKD1","ARHGDIA","SOX4","GDI1","SLC44A1","LARS","ZBTB12","RAB18","COL4A1","JUN","TP63","IDH3G","ALB","NEFM","miR-9","miR-129","miR-222","miR-22","miR-21"],"paddingInner":0,"paddingOuter":0}},"y2":{"field":"gene","bandPosition":0}}},
   {"transform":[{"filter":"!isValid(datum.z)"}],"mark":{"type":"rule","color":"#1a1a1a","strokeWidth":1},
    "encoding":{"x":{"field":"tissue","type":"nominal","bandPosition":0.40,"scale":{"type":"band","domain":["Liver","Skin","Lung","Spleen","Testis","Heart","Kidney","Brain","PN","DFTD"],"paddingInner":0,"paddingOuter":0}},"x2":{"field":"tissue","bandPosition":0.62},
     "y":{"field":"gene","type":"nominal","bandPosition":1,"scale":{"type":"band","domain":["STAT3","NGFR","NPR3","POU3F1","POMC","PMP22","STARD13","EGFL8","MPZ","NES","SOX10","SOX8","MBP","SOX2","PRX","miR-338","ZEB2","NKD1","ARHGDIA","SOX4","GDI1","SLC44A1","LARS","ZBTB12","RAB18","COL4A1","JUN","TP63","IDH3G","ALB","NEFM","miR-9","miR-129","miR-222","miR-22","miR-21"],"paddingInner":0,"paddingOuter":0}},"y2":{"field":"gene","bandPosition":0}}},
   {"transform":[{"filter":"!isValid(datum.z)"}],"mark":{"type":"rule","color":"#1a1a1a","strokeWidth":1},
    "encoding":{"x":{"field":"tissue","type":"nominal","bandPosition":0.59,"scale":{"type":"band","domain":["Liver","Skin","Lung","Spleen","Testis","Heart","Kidney","Brain","PN","DFTD"],"paddingInner":0,"paddingOuter":0}},"x2":{"field":"tissue","bandPosition":0.81},
     "y":{"field":"gene","type":"nominal","bandPosition":1,"scale":{"type":"band","domain":["STAT3","NGFR","NPR3","POU3F1","POMC","PMP22","STARD13","EGFL8","MPZ","NES","SOX10","SOX8","MBP","SOX2","PRX","miR-338","ZEB2","NKD1","ARHGDIA","SOX4","GDI1","SLC44A1","LARS","ZBTB12","RAB18","COL4A1","JUN","TP63","IDH3G","ALB","NEFM","miR-9","miR-129","miR-222","miR-22","miR-21"],"paddingInner":0,"paddingOuter":0}},"y2":{"field":"gene","bandPosition":0}}},
   {"transform":[{"filter":"!isValid(datum.z)"}],"mark":{"type":"rule","color":"#1a1a1a","strokeWidth":1},
    "encoding":{"x":{"field":"tissue","type":"nominal","bandPosition":0.77,"scale":{"type":"band","domain":["Liver","Skin","Lung","Spleen","Testis","Heart","Kidney","Brain","PN","DFTD"],"paddingInner":0,"paddingOuter":0}},"x2":{"field":"tissue","bandPosition":0.99},
     "y":{"field":"gene","type":"nominal","bandPosition":1,"scale":{"type":"band","domain":["STAT3","NGFR","NPR3","POU3F1","POMC","PMP22","STARD13","EGFL8","MPZ","NES","SOX10","SOX8","MBP","SOX2","PRX","miR-338","ZEB2","NKD1","ARHGDIA","SOX4","GDI1","SLC44A1","LARS","ZBTB12","RAB18","COL4A1","JUN","TP63","IDH3G","ALB","NEFM","miR-9","miR-129","miR-222","miR-22","miR-21"],"paddingInner":0,"paddingOuter":0}},"y2":{"field":"gene","bandPosition":0}}}
  ]},
 {"width":1,"height":94,"data":{"values":[]},"mark":"point","encoding":{}},
 {"width":1,"height":94,"data":{"values":[]},"mark":"point","encoding":{}},
 {"width":78,"height":36,"data":{"values":[{"label":"ND"}]},
  "layer":[
   {"mark":{"type":"rect","fill":"white","stroke":"#555","strokeWidth":1},
    "encoding":{"x":{"field":"label","type":"nominal","scale":{"type":"band","domain":["ND"],"paddingInner":0,"paddingOuter":0.3298,"align":0.742},"axis":{"title":null,"domain":false,"tickSize":6,"labelPadding":4,"labelFontSize":11,"labelAngle":0}},
     "y":{"field":"label","type":"nominal","scale":{"type":"band","domain":["ND"],"paddingInner":0,"paddingOuter":0},"axis":null}}},
   {"mark":{"type":"rule","color":"#222","strokeWidth":1},"encoding":{"x":{"field":"label","type":"nominal","bandPosition":0,"scale":{"type":"band","domain":["ND"],"paddingInner":0,"paddingOuter":0.3298,"align":0.742}},"x2":{"field":"label","bandPosition":0.106},"y":{"field":"label","type":"nominal","bandPosition":0.167,"scale":{"type":"band","domain":["ND"],"paddingInner":0,"paddingOuter":0}},"y2":{"field":"label","bandPosition":0}}},
   {"mark":{"type":"rule","color":"#222","strokeWidth":1},"encoding":{"x":{"field":"label","type":"nominal","bandPosition":0,"scale":{"type":"band","domain":["ND"],"paddingInner":0,"paddingOuter":0.3298,"align":0.742}},"x2":{"field":"label","bandPosition":0.319},"y":{"field":"label","type":"nominal","bandPosition":0.5,"scale":{"type":"band","domain":["ND"],"paddingInner":0,"paddingOuter":0}},"y2":{"field":"label","bandPosition":0}}},
   {"mark":{"type":"rule","color":"#222","strokeWidth":1},"encoding":{"x":{"field":"label","type":"nominal","bandPosition":0,"scale":{"type":"band","domain":["ND"],"paddingInner":0,"paddingOuter":0.3298,"align":0.742}},"x2":{"field":"label","bandPosition":0.532},"y":{"field":"label","type":"nominal","bandPosition":0.833,"scale":{"type":"band","domain":["ND"],"paddingInner":0,"paddingOuter":0}},"y2":{"field":"label","bandPosition":0}}},
   {"mark":{"type":"rule","color":"#222","strokeWidth":1},"encoding":{"x":{"field":"label","type":"nominal","bandPosition":0.106,"scale":{"type":"band","domain":["ND"],"paddingInner":0,"paddingOuter":0.3298,"align":0.742}},"x2":{"field":"label","bandPosition":0.745},"y":{"field":"label","type":"nominal","bandPosition":1,"scale":{"type":"band","domain":["ND"],"paddingInner":0,"paddingOuter":0}},"y2":{"field":"label","bandPosition":0}}},
   {"mark":{"type":"rule","color":"#222","strokeWidth":1},"encoding":{"x":{"field":"label","type":"nominal","bandPosition":0.319,"scale":{"type":"band","domain":["ND"],"paddingInner":0,"paddingOuter":0.3298,"align":0.742}},"x2":{"field":"label","bandPosition":0.957},"y":{"field":"label","type":"nominal","bandPosition":1,"scale":{"type":"band","domain":["ND"],"paddingInner":0,"paddingOuter":0}},"y2":{"field":"label","bandPosition":0}}},
   {"mark":{"type":"rule","color":"#222","strokeWidth":1},"encoding":{"x":{"field":"label","type":"nominal","bandPosition":0.532,"scale":{"type":"band","domain":["ND"],"paddingInner":0,"paddingOuter":0.3298,"align":0.742}},"x2":{"field":"label","bandPosition":1},"y":{"field":"label","type":"nominal","bandPosition":1,"scale":{"type":"band","domain":["ND"],"paddingInner":0,"paddingOuter":0}},"y2":{"field":"label","bandPosition":0.267}}},
   {"mark":{"type":"rule","color":"#222","strokeWidth":1},"encoding":{"x":{"field":"label","type":"nominal","bandPosition":0.745,"scale":{"type":"band","domain":["ND"],"paddingInner":0,"paddingOuter":0.3298,"align":0.742}},"x2":{"field":"label","bandPosition":1},"y":{"field":"label","type":"nominal","bandPosition":1,"scale":{"type":"band","domain":["ND"],"paddingInner":0,"paddingOuter":0}},"y2":{"field":"label","bandPosition":0.6}}}
  ]},
 {"width":433,"height":36,"data":{"name":"legendBins"},
  "layer":[
   {"transform":[{"calculate":"(datum.lo + datum.hi) / 2","as":"mid"}],"mark":{"type":"rect"},
    "encoding":{"x":{"field":"lo","type":"quantitative","scale":{"domain":[-2.877,2.56],"range":[-1,432],"nice":false,"zero":false},"axis":{"values":[-2,-1,0,1,2],"format":"d","title":null,"domain":false,"tickSize":6,"labelPadding":4,"labelFontSize":11,"labelFlush":false,"grid":false}},"x2":{"field":"hi"},
     "color":{"field":"mid","type":"quantitative","scale":{"type":"threshold","domain":[-2.273,-1.669,-1.065,-0.461,0.143,0.747,1.351,1.955],"range":["#ffffff","#f1f1f2","#d9d9d9","#bcbcbc","#979797","#747474","#545454","#262626","#1f1b1c"]},"legend":null}}},
   {"transform":[{"aggregate":[{"op":"min","field":"lo","as":"lo"},{"op":"max","field":"hi","as":"hi"}]}],"mark":{"type":"rect","fillOpacity":0,"stroke":"#6d6d6d","strokeWidth":1},
    "encoding":{"x":{"field":"lo","type":"quantitative","scale":{"domain":[-2.877,2.56],"range":[-1,432],"nice":false,"zero":false}},"x2":{"field":"hi"}}}
  ]}
]
}
